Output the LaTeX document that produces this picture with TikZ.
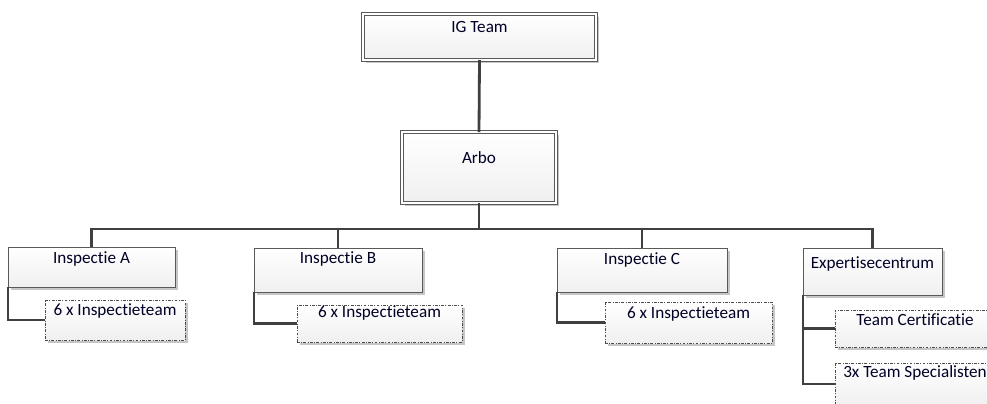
\documentclass[tikz,border=0pt]{standalone}
\usepackage{fontspec}
\setmainfont{Carlito}[Ligatures=NoCommon]
\usetikzlibrary{shadows,positioning}
\newcommand{\pxl}{0.025cm}
\tikzset{
  box/.style={rectangle, inner sep=0pt, outer sep=0pt, draw=gray!70!black, line width=0.6pt,
    top color=white, bottom color=gray!12,
    drop shadow={shadow xshift=2pt, shadow yshift=-2pt, fill=gray!45, opacity=1}},
  hoofdbox/.style={box, double=white, double distance=1.6pt},
  teambox/.style={box, draw=gray!60!black, dash pattern=on 2pt off 1pt on 0.6pt off 1pt},
  txt/.style={anchor=base, inner sep=0pt, font=\fontsize{12.2pt}{14pt}\selectfont, text=black!85!blue},
  lijn/.style={draw=black!75, line width=2pt}
}
\begin{document}
\begin{tikzpicture}[x=0.025cm, y=-0.025cm]
    \path[use as bounding box, clip] (0,0) rectangle (987,403);

    % top boxes
    \node[hoofdbox, minimum width=233*\pxl, minimum height=46*\pxl] (ig) at (479.5,37) {};
    \node[hoofdbox, minimum width=154*\pxl, minimum height=71*\pxl] (arbo) at (479,167.5) {};

    % second level
    \node[box, minimum width=167*\pxl, minimum height=40*\pxl] (inspA) at (91.5,267) {};
    \node[box, minimum width=168*\pxl, minimum height=44*\pxl] (inspB) at (338,270) {};
    \node[box, minimum width=170*\pxl, minimum height=44*\pxl] (inspC) at (642,270) {};
    \node[box, minimum width=139*\pxl, minimum height=47*\pxl] (expert) at (872.5,271.5) {};

    % teams
    \node[teambox, minimum width=140*\pxl, minimum height=40*\pxl] (teamA) at (115,320) {};
    \node[teambox, minimum width=165*\pxl, minimum height=37*\pxl] (teamB) at (379.5,323.5) {};
    \node[teambox, minimum width=167*\pxl, minimum height=41*\pxl] (teamC) at (688.5,322.5) {};
    \node[teambox, minimum width=160*\pxl, minimum height=37*\pxl] (cert) at (915,328.5) {};
    \node[teambox, minimum width=160*\pxl, minimum height=42*\pxl] (spec) at (915,384) {};

    % texts
    \node[txt] (igT) at (479.5,32) {IG Team};
    \node[txt] (arboT) at (479,163) {Arbo};
    \node[txt] (inspAT) at (91.5,263) {Inspectie A};
    \node[txt] (inspBT) at (338,263) {Inspectie B};
    \node[txt] (inspCT) at (642,264) {Inspectie C};
    \node[txt] (expertT) at (872.5,268) {Expertisecentrum};
    \node[txt] (teamAT) at (115,315) {6 x Inspectieteam};
    \node[txt] (teamBT) at (379.5,317) {6 x Inspectieteam};
    \node[txt] (teamCT) at (688.5,318) {6 x Inspectieteam};
    \node[txt] (certT) at (915,325) {Team Certificatie};
    \node[txt] (specT) at (915,377) {3x Team Specialisten};

    % connectors
    \coordinate (bus) at (479,229);
    \draw[lijn] (ig.south) -- (arbo.north);
    \draw[lijn] (arbo.south) -- (bus) -| (inspA.north);
    \draw[lijn] (bus) -| (inspB.north);
    \draw[lijn] (bus) -| (inspC.north);
    \draw[lijn] (bus) -| (expert.north);
    \draw[lijn] (inspA.south west) |- (teamA.west);
    \draw[lijn] (inspB.south west) |- (teamB.west);
    \draw[lijn] (inspC.south west) |- (teamC.west);
    \draw[lijn] (expert.south west) |- (cert.west);
    \draw[lijn] (expert.south west) |- (spec.west);
\end{tikzpicture}
\end{document}
